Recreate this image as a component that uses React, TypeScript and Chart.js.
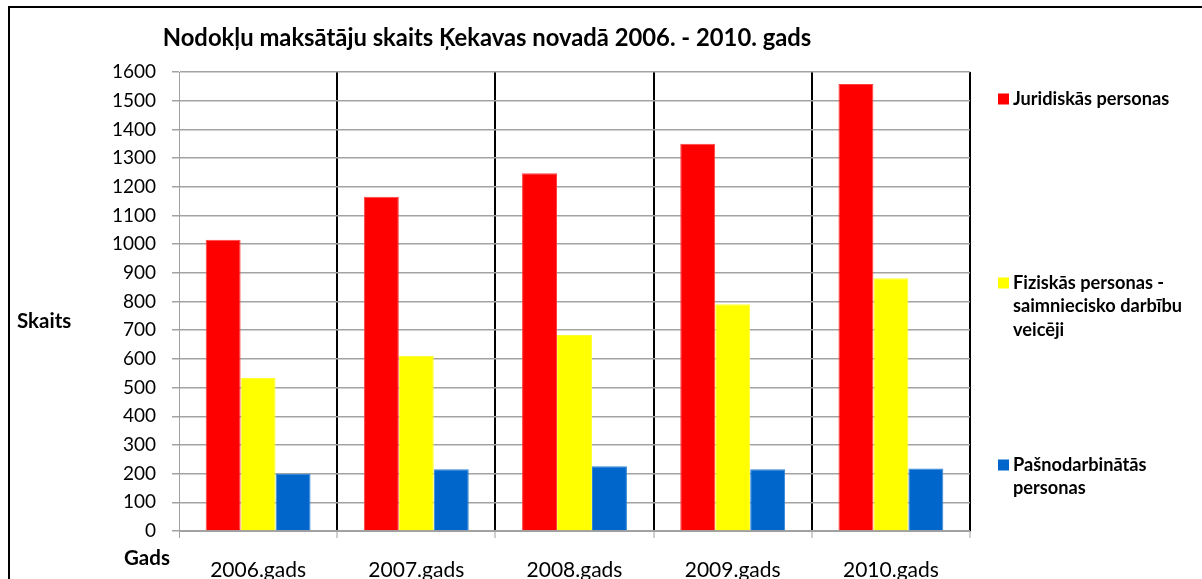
import React, { useEffect, useRef } from "react";
import { Chart, registerables } from "chart.js";

Chart.register(...registerables);

const FONT = "Lato, 'Open Sans', sans-serif";

const TITLE = "Nodokļu maksātāju skaits Ķekavas novadā 2006. - 2010. gads";
const Y_TITLE = "Skaits";
const X_TITLE = "Gads";

const categories = ["2006.gads", "2007.gads", "2008.gads", "2009.gads", "2010.gads"];

const juridiskas = [1015, 1165, 1247, 1350, 1558];
const fiziskas = [533, 610, 683, 790, 881];
const pasnodarbinatas = [200, 215, 226, 215, 218];

const seriesLines = [
  ["Juridiskās personas"],
  ["Fiziskās personas -", "saimniecisko darbību", "veicēji"],
  ["Pašnodarbinātās", "personas"],
];

const seriesColors = ["#FF0000", "#FFFF00", "#0066CC"];
const seriesBorders = ["#FF4040", "#FFFF30", "#2F86DA"];

const Y_MIN = 0;
const Y_MAX = 1600;
const Y_STEP = 100;

const overlayPlugin = {
  id: "overlay",
  afterDraw(chart: any) {
    const ctx = chart.ctx as CanvasRenderingContext2D;
    const area = chart.chartArea;
    ctx.save();
    ctx.fillStyle = "#000";
    ctx.textBaseline = "middle";

    // title
    ctx.font = `bold 23.8px ${FONT}`;
    ctx.textAlign = "center";
    ctx.fillText(TITLE, 477, 30);

    // axis titles
    ctx.font = `bold 20.5px ${FONT}`;
    ctx.textAlign = "left";
    ctx.fillText(Y_TITLE, 7, (area.top + area.bottom) / 2 + 20);
    ctx.fillText(X_TITLE, 114, area.bottom + 27);

    // legend
    const legendX = area.right + 28;
    const legendYs = [91, 275, 457];
    const lineH = 23.5;
    ctx.font = `bold 18.2px ${FONT}`;
    chart.data.datasets.forEach((ds: any, i: number) => {
      const y0 = legendYs[i];
      ctx.fillStyle = ds.backgroundColor;
      ctx.fillRect(legendX, y0 - 5.5, 11, 11);
      ctx.fillStyle = "#000";
      seriesLines[i].forEach((line, k) => {
        ctx.fillText(line, legendX + 15, y0 + k * lineH);
      });
    });
    ctx.restore();
  },
};

export default function App() {
  const canvasRef = useRef<HTMLCanvasElement | null>(null);

  useEffect(() => {
    if (!canvasRef.current) return;
    const data = [juridiskas, fiziskas, pasnodarbinatas];
    const chart = new Chart(canvasRef.current, {
      type: "bar",
      data: {
        labels: categories,
        datasets: data.map((values, i) => ({
          label: seriesLines[i].join(" "),
          data: values,
          backgroundColor: seriesColors[i],
          borderColor: seriesBorders[i],
          borderWidth: 1,
          barPercentage: 1,
          categoryPercentage: 0.663,
        })),
      },
      options: {
        animation: false,
        responsive: false,
        maintainAspectRatio: false,
        layout: { padding: { top: 64, right: 232, bottom: 0, left: 0 } },
        plugins: {
          legend: { display: false },
          title: { display: false },
          tooltip: { enabled: false },
        },
        scales: {
          x: {
            afterFit(scale: any) {
              scale.height = 65;
            },
            grid: {
              offset: true,
              color: (ctx: any) => (ctx.index === 0 ? "#a0a0a0" : "#000000"),
              lineWidth: (ctx: any) => (ctx.index === 0 ? 1 : 2),
              tickColor: "#a0a0a0",
              tickLength: 7,
              tickWidth: 1,
            },
            border: { color: "#a0a0a0", width: 1 },
            ticks: {
              color: "#000",
              font: { family: FONT, size: 21 },
              padding: 20,
              maxRotation: 0,
            },
          },
          y: {
            min: Y_MIN,
            max: Y_MAX,
            afterFit(scale: any) {
              scale.width = 169;
            },
            grid: {
              color: "#a3a3a3",
              lineWidth: 1.5,
              tickColor: "#a3a3a3",
              tickLength: 7,
            },
            border: { color: "#a0a0a0", width: 1 },
            ticks: {
              stepSize: Y_STEP,
              color: "#000",
              font: { family: FONT, size: 19 },
              padding: 16,
              callback: (value: any) => String(value),
            },
          },
        },
      },
      plugins: [overlayPlugin],
    });
    return () => chart.destroy();
  }, []);

  return (
    <div
      style={{
        position: "fixed",
        left: 8,
        top: 6,
        width: 1194,
        height: 600,
        borderTop: "2px solid #000",
        borderLeft: "2px solid #000",
        background: "#fff",
      }}
    >
      <canvas ref={canvasRef} width={1192} height={588} style={{ display: "block" }} />
    </div>
  );
}
